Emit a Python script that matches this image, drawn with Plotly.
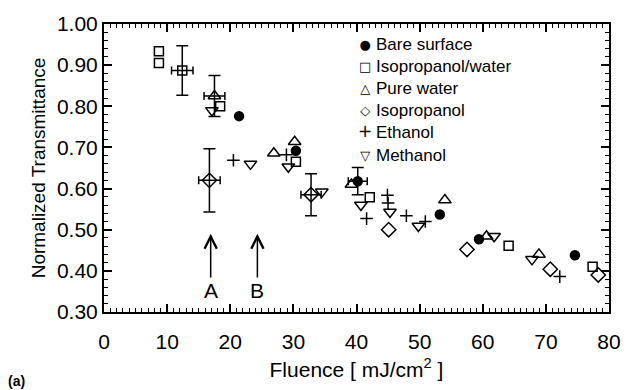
import plotly.graph_objects as go

# ---- data ----
bare_x = [21.4, 30.4, 40.2, 53.2, 59.4, 74.6]
bare_y = [0.776, 0.692, 0.618, 0.537, 0.477, 0.438]
bare_ex = [0, 0, 1.5, 0, 0, 0]
bare_ey = [0, 0, 0.033, 0, 0, 0]

ipw_x = [8.7, 8.7, 12.4, 18.4, 30.4, 42.1, 64.1, 77.4]
ipw_y = [0.934, 0.905, 0.887, 0.800, 0.665, 0.579, 0.461, 0.410]
ipw_ex = [0, 0, 1.7, 0, 0, 0, 0, 0]
ipw_ey = [0, 0, 0.060, 0, 0, 0, 0, 0]

pw_x = [17.5, 26.9, 30.2, 39.2, 54.0, 60.6, 68.9]
pw_y = [0.825, 0.686, 0.714, 0.610, 0.572, 0.484, 0.440]
pw_ex = [1.65, 0, 0, 0, 0, 0, 0]
pw_ey = [0.050, 0, 0, 0, 0, 0, 0]

iso_x = [16.7, 32.8, 45.1, 57.5, 70.7, 78.3]
iso_y = [0.620, 0.585, 0.500, 0.452, 0.404, 0.390]
iso_ex = [1.7, 1.6, 0, 0, 0, 0]
iso_ey = [0.077, 0.051, 0, 0, 0, 0]

eth_x = [20.5, 28.9, 41.6, 44.9, 45.0, 47.9, 50.9, 72.2]
eth_y = [0.669, 0.682, 0.527, 0.584, 0.565, 0.534, 0.520, 0.386]

met_x = [17.1, 23.2, 29.2, 34.5, 40.7, 45.3, 49.8, 61.8, 67.8]
met_y = [0.790, 0.660, 0.653, 0.592, 0.560, 0.543, 0.509, 0.484, 0.428]

series_names = ["Bare surface", "Isopropanol/water", "Pure water",
                "Isopropanol", "Ethanol", "Methanol"]
legend_glyphs = ["\u25cf", "\u25a1", "\u25b3", "\u25c7", "+", "\u25bd"]

y_ticks = [0.30, 0.40, 0.50, 0.60, 0.70, 0.80, 0.90, 1.00]
x_ticks = [0, 10, 20, 30, 40, 50, 60, 70, 80]

arrow_labels = ["A", "B"]
arrow_x = [16.9, 24.3]

FONT = "Liberation Sans, Arial, sans-serif"

fig = go.Figure()


def add(x, y, name, symbol, size, ex=None, ey=None, lw=1.5):
    fig.add_trace(go.Scatter(
        x=x, y=y, mode="markers", name=name, showlegend=False,
        marker=dict(symbol=symbol, size=size, color="black",
                    line=dict(color="black", width=lw))))
    if ex is not None:
        idx = [i for i in range(len(x)) if ex[i] > 0 or ey[i] > 0]
        fig.add_trace(go.Scatter(
            x=[x[i] for i in idx], y=[y[i] for i in idx], mode="markers",
            showlegend=False, hoverinfo="skip",
            marker=dict(size=1, opacity=0),
            error_x=dict(type="data", array=[ex[i] for i in idx], visible=True,
                         color="black", thickness=1.5, width=4),
            error_y=dict(type="data", array=[ey[i] for i in idx], visible=True,
                         color="black", thickness=1.5, width=6)))


add(bare_x, bare_y, series_names[0], "circle", 9, bare_ex, bare_ey)
add(ipw_x, ipw_y, series_names[1], "square-open", 9, ipw_ex, ipw_ey)
add(pw_x, pw_y, series_names[2], "triangle-up-open", 11, pw_ex, pw_ey)
add(iso_x, iso_y, series_names[3], "diamond-open", 11, iso_ex, iso_ey)
add(eth_x, eth_y, series_names[4], "cross-thin-open", 9)
add(met_x, met_y, series_names[5], "triangle-down-open", 11)

# arrows with their labels
for lab, xa in zip(arrow_labels, arrow_x):
    fig.add_annotation(x=xa, y=0.49, ax=xa, ay=0.352, xref="x", yref="y",
                       axref="x", ayref="y", text=lab, showarrow=True,
                       arrowhead=5, arrowsize=1.6, arrowwidth=1.5,
                       arrowcolor="black", standoff=0, startstandoff=0,
                       font=dict(size=21, color="black", family=FONT))

# legend (two text blocks with identical line spacing: symbols and names)
L, R, T, B, W, H = 104, 15, 20, 76, 633, 390
PW, PH = W - L - R, H - T - B
LEG_FS = 17
sym_px, txt_px, row0 = 370, 379, 42
drow = LEG_FS * 1.3
center_py = row0 + 2.5 * drow
yc = (H - B - center_py) / PH
glyph_lines = ["<span style='font-size:%dpx'>%s</span>" % (17 if g == "+" else 13, g)
               for g in legend_glyphs]
fig.add_annotation(x=(sym_px - L) / PW, y=yc, xref="paper", yref="paper",
                   text="<br>".join(glyph_lines), showarrow=False,
                   xanchor="center", yanchor="middle", align="center",
                   font=dict(size=LEG_FS, color="black",
                             family="DejaVu Sans, sans-serif"))
fig.add_annotation(x=(txt_px - L) / PW, y=yc, xref="paper", yref="paper",
                   text="<br>".join(series_names), showarrow=False,
                   xanchor="left", yanchor="middle", align="left",
                   font=dict(size=LEG_FS, color="black", family=FONT))

fig.add_annotation(x=(4 - L) / PW, y=(H - B - 384) / PH, xref="paper", yref="paper",
                   text="<b>(a)</b>", showarrow=False, xanchor="left",
                   yanchor="middle", font=dict(size=14, color="black", family=FONT))

axis_common = dict(
    showline=True, linecolor="black", linewidth=2, mirror="ticks",
    ticks="inside", ticklen=8, tickwidth=1.5, tickcolor="black",
    showgrid=False, zeroline=False,
    tickfont=dict(size=21, color="black", family=FONT),
)

fig.update_xaxes(range=[0, 80], tickvals=x_ticks,
                 ticktext=[str(v) for v in x_ticks],
                 ticklabelstandoff=10,
                 minor=dict(dtick=1, ticks="inside", ticklen=4, tickwidth=1,
                            tickcolor="black", showgrid=False),
                 title=dict(text="Fluence [ mJ/cm<sup>2</sup> ]",
                            font=dict(size=21, color="black", family=FONT),
                            standoff=10),
                 **axis_common)
fig.update_yaxes(range=[0.30, 1.00], tickvals=y_ticks,
                 ticktext=["%.2f" % v for v in y_ticks],
                 minor=dict(dtick=0.02, ticks="inside", ticklen=4, tickwidth=1,
                            tickcolor="black", showgrid=False),
                 title=dict(text="Normalized Transmittance",
                            font=dict(size=19, color="black", family=FONT),
                            standoff=6),
                 **axis_common)

fig.update_layout(
    width=W, height=H,
    margin=dict(l=L, r=R, t=T, b=B),
    plot_bgcolor="white", paper_bgcolor="white",
    showlegend=False,
    font=dict(family=FONT, color="black"),
)

fig.write_html("out.html")
